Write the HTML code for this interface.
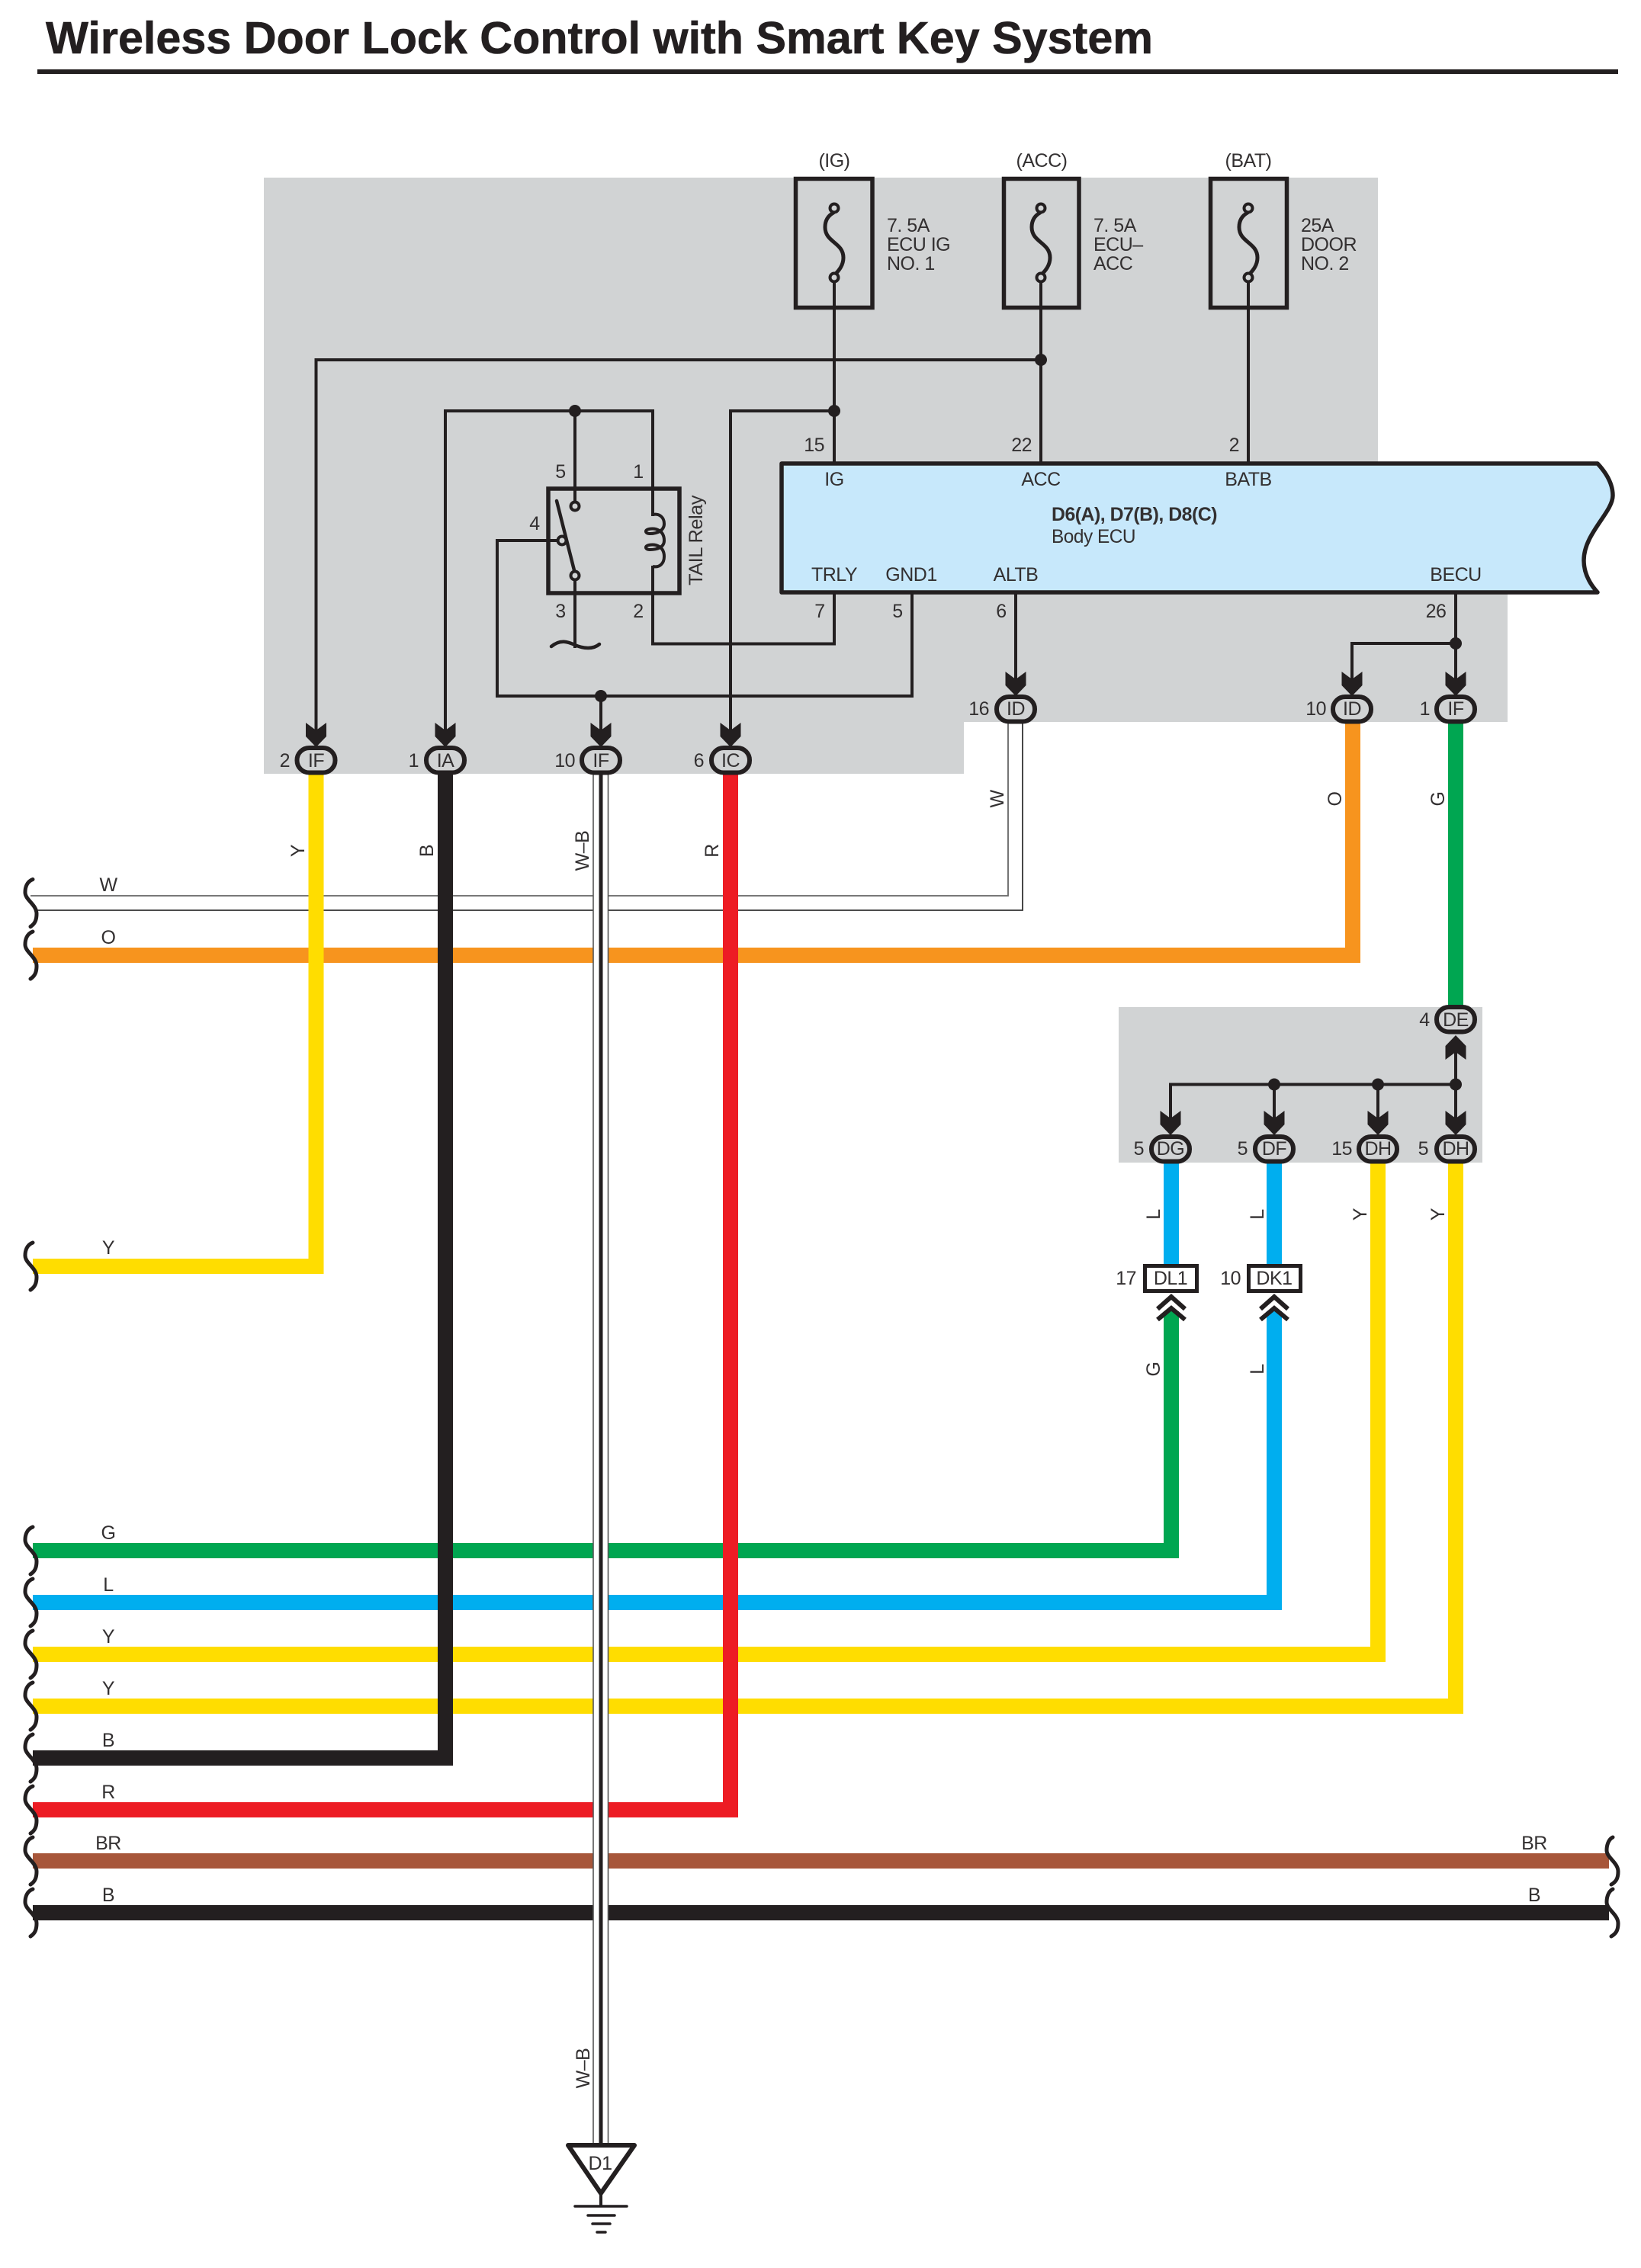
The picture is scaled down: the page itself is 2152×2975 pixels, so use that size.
<!DOCTYPE html>
<html><head><meta charset="utf-8"><title>Wireless Door Lock Control with Smart Key System</title>
<style>
html,body{margin:0;padding:0;background:#fff}
svg{display:block}
text{font-family:"Liberation Sans",sans-serif;font-size:25px;fill:#333031;letter-spacing:-.5px}
.m{text-anchor:middle}.e{text-anchor:end}
.ln{fill:none;stroke:#231f20;stroke-width:4;stroke-linecap:square}
.w{fill:none;stroke-width:20;stroke-linejoin:miter}
.box{fill:none;stroke:#231f20;stroke-width:5.5}
.ov{fill:#d1d3d4;stroke:#231f20;stroke-width:6}
.sq{fill:none;stroke:#231f20;stroke-width:5;stroke-linecap:round}
.fu{fill:none;stroke:#231f20;stroke-width:5;stroke-linecap:round}
.c{fill:#d1d3d4;stroke:#231f20;stroke-width:4}
</style></head><body>
<svg xmlns="http://www.w3.org/2000/svg" width="2152" height="2975" viewBox="0 0 2152 2975">
<defs>
<path id="a" d="M-13.5,-30 L0,-20 L13.5,-30 V-12 L0,2 L-13.5,-12 Z" fill="#231f20"/>
<path id="s" d="M43,-31 C35,-28 33,-20 33,-14 C33,-4 48,2 48,14 C48,22 46,27 40,31" class="sq"/>
<path id="sr" d="M2115,-31 C2109,-28 2107,-20 2107,-14 C2107,-4 2122,2 2122,14 C2122,22 2120,27 2113,31" class="sq"/>
<g id="f"><path d="M-1,279 C-10,284 -12,292 -12,298 C-12,318 12,318 12,338 C12,348 6,355 1,360" class="fu"/><circle cx="0" cy="273" r="5.5" class="c"/><circle cx="0" cy="364" r="5.5" class="c"/></g>
</defs>
<rect width="2152" height="2975" fill="#fff"/>

<!-- Title -->
<text x="60" y="70" style="font-size:59px;font-weight:bold;fill:#231f20;letter-spacing:0;stroke:#231f20;stroke-width:.6" textLength="1452" lengthAdjust="spacingAndGlyphs">Wireless Door Lock Control with Smart Key System</text>
<rect x="49" y="91" width="2073" height="6" fill="#231f20"/>

<!-- Gray backgrounds -->
<path d="M346,233 H1807 V608 H1977 V947 H1264 V1015 H346 Z" fill="#d1d3d4"/>
<rect x="1467" y="1321" width="477" height="204" fill="#d1d3d4"/>

<!-- Thin W wires -->
<path d="M40,1175 H1322 V947" fill="none" stroke="#666" stroke-width="1.8"/>
<path d="M48,1194 H1341 V947" fill="none" stroke="#333" stroke-width="1.8"/>

<!-- Thick wires: horizontal first -->
<path class="w" stroke="#f7941e" d="M43,1253 H1774 V947"/>
<path class="w" stroke="#00a651" d="M43,2034 H1536 V1720"/>
<path class="w" stroke="#00aeef" d="M43,2102 H1671 V1720"/>
<path class="w" stroke="#ffdd00" d="M43,2170 H1807 V1525"/>
<path class="w" stroke="#ffdd00" d="M43,2238 H1909 V1525"/>
<path class="w" stroke="#a7563a" d="M43,2441 H2110"/>
<path class="w" stroke="#231f20" d="M43,2509 H2110"/>
<path class="w" stroke="#00a651" d="M1909,947 V1320"/>
<path class="w" stroke="#00aeef" d="M1536,1525 V1660"/>
<path class="w" stroke="#00aeef" d="M1671,1525 V1660"/>
<!-- vertical overlays -->
<path class="w" stroke="#ffdd00" d="M43,1661 H414.5 V1014"/>
<path class="w" stroke="#231f20" d="M43,2306 H584 V1014"/>
<path class="w" stroke="#ed1c24" d="M43,2374 H958 V1014"/>
<!-- W-B wire -->
<rect x="778" y="1014" width="20" height="1800" fill="#fff"/>
<path d="M778,1014 V2814 M797.5,1014 V2814" fill="none" stroke="#555" stroke-width="1.6"/>
<rect x="785.5" y="1014" width="5" height="1800" fill="#231f20"/>

<!-- Break marks -->
<use href="#s" transform="translate(0,1184.5)"/>
<use href="#s" transform="translate(0,1253)"/>
<use href="#s" transform="translate(0,1661)"/>
<use href="#s" transform="translate(0,2034)"/>
<use href="#s" transform="translate(0,2102)"/>
<use href="#s" transform="translate(0,2170)"/>
<use href="#s" transform="translate(0,2238)"/>
<use href="#s" transform="translate(0,2306)"/>
<use href="#s" transform="translate(0,2374)"/>
<use href="#s" transform="translate(0,2441)"/>
<use href="#s" transform="translate(0,2509)"/>
<use href="#sr" transform="translate(0,2441)"/>
<use href="#sr" transform="translate(0,2509)"/>

<!-- Fuses -->
<rect x="1043.5" y="234.5" width="100.5" height="169" class="box"/>
<rect x="1316.5" y="234.5" width="98.5" height="169" class="box"/>
<rect x="1587.5" y="234.5" width="100" height="169" class="box"/>
<use href="#f" x="1094"/><use href="#f" x="1365"/><use href="#f" x="1637"/>

<!-- Thin black circuits -->
<path class="ln" d="M1094,371 V608"/>
<path class="ln" d="M1365,371 V608"/>
<path class="ln" d="M1637,371 V608"/>
<path class="ln" d="M1365,472 H414.5 V960"/>
<path class="ln" d="M1094,539 H958 V960"/>
<path class="ln" d="M584,960 V539 H856 V675"/>
<path class="ln" d="M754,539 V658"/>
<path class="ln" d="M856,744 V844.5 H1094 V778"/>
<path class="ln" d="M754,760 V848"/>
<path class="ln" d="M731,709 H652 V913 H1196 V778"/>
<path class="ln" d="M788,913 V960"/>
<path class="ln" d="M1332,778 V895"/>
<path class="ln" d="M1909,778 V895"/>
<path class="ln" d="M1909,844 H1773 V895"/>
<path class="ln" d="M1909,1422.5 H1535 V1470"/>
<path class="ln" d="M1671,1422.5 V1470"/>
<path class="ln" d="M1807,1422.5 V1470"/>
<path class="ln" d="M1909,1375 V1470"/>

<!-- Relay -->
<rect x="719" y="641" width="172" height="137" class="box"/>
<path d="M730,657 L754,752" fill="none" stroke="#231f20" stroke-width="4.5" stroke-linecap="round"/>
<circle cx="754" cy="664" r="5.5" class="c"/>
<circle cx="737" cy="709" r="5.5" class="c"/>
<circle cx="754" cy="755" r="5.5" class="c"/>
<path d="M856,675 C865,673 871,679 871,687 C871,696 862,700 852,700 C846,700 845,695 851,694 C860,692 871,696 871,709 C871,718 862,721 852,721 C846,721 845,716 851,715 C860,713 871,717 871,730 C871,739 865,745 856,743" fill="none" stroke="#231f20" stroke-width="4"/>
<path d="M723,848 C735,838 745,842 754,846 C765,851 778,852 786,845" fill="none" stroke="#231f20" stroke-width="4.5" stroke-linecap="round"/>

<!-- ECU -->
<path d="M1025,608 H2095 C2108,622 2115,636 2115,650 C2115,672 2077,700 2077,735 C2077,752 2085,766 2095,777 H1025 Z" fill="#c7e8fb" stroke="#231f20" stroke-width="5.5" stroke-linejoin="round"/>

<!-- Junctions -->
<g fill="#231f20">
<circle cx="1365" cy="472" r="8"/><circle cx="1094" cy="539" r="8"/><circle cx="754" cy="539" r="8"/><circle cx="788" cy="913" r="8"/><circle cx="1909" cy="844" r="8"/>
<circle cx="1671" cy="1422.5" r="8"/><circle cx="1807" cy="1422.5" r="8"/><circle cx="1909" cy="1422.5" r="8"/>
</g>

<!-- Arrows -->
<use href="#a" transform="translate(414.5,978)"/><use href="#a" transform="translate(584,978)"/><use href="#a" transform="translate(788,978)"/><use href="#a" transform="translate(958,978)"/>
<use href="#a" transform="translate(1332,911)"/><use href="#a" transform="translate(1773,911)"/><use href="#a" transform="translate(1909,911)"/>
<use href="#a" transform="translate(1535,1487)"/><use href="#a" transform="translate(1671,1487)"/><use href="#a" transform="translate(1807,1487)"/><use href="#a" transform="translate(1909,1487)"/>
<use href="#a" transform="translate(1909,1360) scale(1,-1)"/>

<!-- Connector ovals -->
<rect x="389.5" y="981" width="50" height="32.5" rx="16" class="ov"/>
<rect x="559" y="981" width="50" height="32.5" rx="16" class="ov"/>
<rect x="763" y="981" width="50" height="32.5" rx="16" class="ov"/>
<rect x="933" y="981" width="50" height="32.5" rx="16" class="ov"/>
<rect x="1307" y="914" width="50" height="32.5" rx="16" class="ov"/>
<rect x="1748" y="914" width="50" height="32.5" rx="16" class="ov"/>
<rect x="1884" y="914" width="50" height="32.5" rx="16" class="ov"/>
<rect x="1884" y="1321" width="50" height="32.5" rx="16" class="ov"/>
<rect x="1510" y="1491" width="50" height="32.5" rx="16" class="ov"/>
<rect x="1646" y="1491" width="50" height="32.5" rx="16" class="ov"/>
<rect x="1782" y="1491" width="50" height="32.5" rx="16" class="ov"/>
<rect x="1884" y="1491" width="50" height="32.5" rx="16" class="ov"/>

<!-- Junction connectors DL1/DK1 -->
<rect x="1501.5" y="1660.5" width="68" height="33" fill="#fff" stroke="#231f20" stroke-width="5"/>
<rect x="1637.5" y="1660.5" width="68" height="33" fill="#fff" stroke="#231f20" stroke-width="5"/>
<path d="M1518,1717 L1536,1701 L1554,1717 M1518,1731 L1536,1716 L1554,1731" fill="none" stroke="#231f20" stroke-width="6"/>
<path d="M1653,1717 L1671,1701 L1689,1717 M1653,1731 L1671,1716 L1689,1731" fill="none" stroke="#231f20" stroke-width="6"/>

<!-- Ground -->
<path d="M745,2814 H832 L788,2877 Z" fill="#fff" stroke="#231f20" stroke-width="6" stroke-linejoin="round"/>
<path d="M788,2877 V2894" stroke="#231f20" stroke-width="4" fill="none"/>
<path d="M754,2894 H822 M771,2906 H806 M777,2917 H800 M783,2928 H794" stroke="#231f20" stroke-width="3.5" stroke-linecap="round" fill="none"/>
<text x="787" y="2846" class="m">D1</text>

<!-- Fuse labels -->
<text x="1094" y="219" class="m">(IG)</text>
<text x="1366" y="219" class="m">(ACC)</text>
<text x="1637" y="219" class="m">(BAT)</text>
<text x="1163" y="304">7. 5A</text><text x="1163" y="329">ECU IG</text><text x="1163" y="354">NO. 1</text>
<text x="1434" y="304">7. 5A</text><text x="1434" y="329">ECU–</text><text x="1434" y="354">ACC</text>
<text x="1706" y="304">25A</text><text x="1706" y="329">DOOR</text><text x="1706" y="354">NO. 2</text>

<!-- ECU labels -->
<text x="1081" y="592" class="e">15</text><text x="1353" y="592" class="e">22</text><text x="1625" y="592" class="e">2</text>
<text x="1094" y="637" class="m">IG</text><text x="1365" y="637" class="m">ACC</text><text x="1637" y="637" class="m">BATB</text>
<text x="1379" y="683" style="font-weight:bold" textLength="217" lengthAdjust="spacingAndGlyphs">D6(A), D7(B), D8(C)</text>
<text x="1379" y="712" textLength="110" lengthAdjust="spacingAndGlyphs">Body ECU</text>
<text x="1094" y="762" class="m">TRLY</text><text x="1195" y="762" class="m">GND1</text><text x="1332" y="762" class="m">ALTB</text><text x="1909" y="762" class="m">BECU</text>
<text x="1075" y="810" class="m">7</text><text x="1177" y="810" class="m">5</text><text x="1313" y="810" class="m">6</text><text x="1883" y="810" class="m">26</text>

<!-- Relay labels -->
<text x="735" y="627" class="m">5</text><text x="837" y="627" class="m">1</text><text x="701" y="695" class="m">4</text><text x="735" y="810" class="m">3</text><text x="837" y="810" class="m">2</text>
<text transform="translate(921,768) rotate(-90)" textLength="118" lengthAdjust="spacingAndGlyphs">TAIL Relay</text>

<!-- Connector labels -->
<text x="380" y="1006" class="e">2</text><text x="414.5" y="1006" class="m">IF</text>
<text x="549" y="1006" class="e">1</text><text x="584" y="1006" class="m">IA</text>
<text x="754" y="1006" class="e">10</text><text x="788" y="1006" class="m">IF</text>
<text x="923" y="1006" class="e">6</text><text x="958" y="1006" class="m">IC</text>
<text x="1297" y="938" class="e">16</text><text x="1332" y="938" class="m">ID</text>
<text x="1739" y="938" class="e">10</text><text x="1773" y="938" class="m">ID</text>
<text x="1875" y="938" class="e">1</text><text x="1909" y="938" class="m">IF</text>
<text x="1868" y="1346" class="m">4</text><text x="1909" y="1346" class="m">DE</text>
<text x="1500" y="1515" class="e">5</text><text x="1535" y="1515" class="m">DG</text>
<text x="1636" y="1515" class="e">5</text><text x="1671" y="1515" class="m">DF</text>
<text x="1773" y="1515" class="e">15</text><text x="1807" y="1515" class="m">DH</text>
<text x="1873" y="1515" class="e">5</text><text x="1909" y="1515" class="m">DH</text>
<text x="1490" y="1685" class="e">17</text><text x="1535" y="1685" class="m">DL1</text>
<text x="1627" y="1685" class="e">10</text><text x="1671" y="1685" class="m">DK1</text>

<!-- Wire labels rotated -->
<text transform="translate(399,1116) rotate(-90)" class="m">Y</text>
<text transform="translate(568,1116) rotate(-90)" class="m">B</text>
<text transform="translate(772,1116) rotate(-90)" class="m">W–B</text>
<text transform="translate(942,1116) rotate(-90)" class="m">R</text>
<text transform="translate(1316,1048) rotate(-90)" class="m">W</text>
<text transform="translate(1759,1048) rotate(-90)" class="m">O</text>
<text transform="translate(1894,1048) rotate(-90)" class="m">G</text>
<text transform="translate(1521,1593) rotate(-90)" class="m">L</text>
<text transform="translate(1657,1593) rotate(-90)" class="m">L</text>
<text transform="translate(1792,1593) rotate(-90)" class="m">Y</text>
<text transform="translate(1894,1593) rotate(-90)" class="m">Y</text>
<text transform="translate(1521,1796) rotate(-90)" class="m">G</text>
<text transform="translate(1657,1796) rotate(-90)" class="m">L</text>
<text transform="translate(773,2713) rotate(-90)" class="m">W–B</text>

<!-- Left wire labels -->
<text x="142" y="1169" class="m">W</text><text x="142" y="1238" class="m">O</text><text x="142" y="1645" class="m">Y</text>
<text x="142" y="2019" class="m">G</text><text x="142" y="2087" class="m">L</text><text x="142" y="2155" class="m">Y</text><text x="142" y="2223" class="m">Y</text>
<text x="142" y="2291" class="m">B</text><text x="142" y="2359" class="m">R</text><text x="142" y="2426" class="m">BR</text><text x="142" y="2494" class="m">B</text>
<text x="2012" y="2426" class="m">BR</text><text x="2012" y="2494" class="m">B</text>
</svg>
</body></html>
